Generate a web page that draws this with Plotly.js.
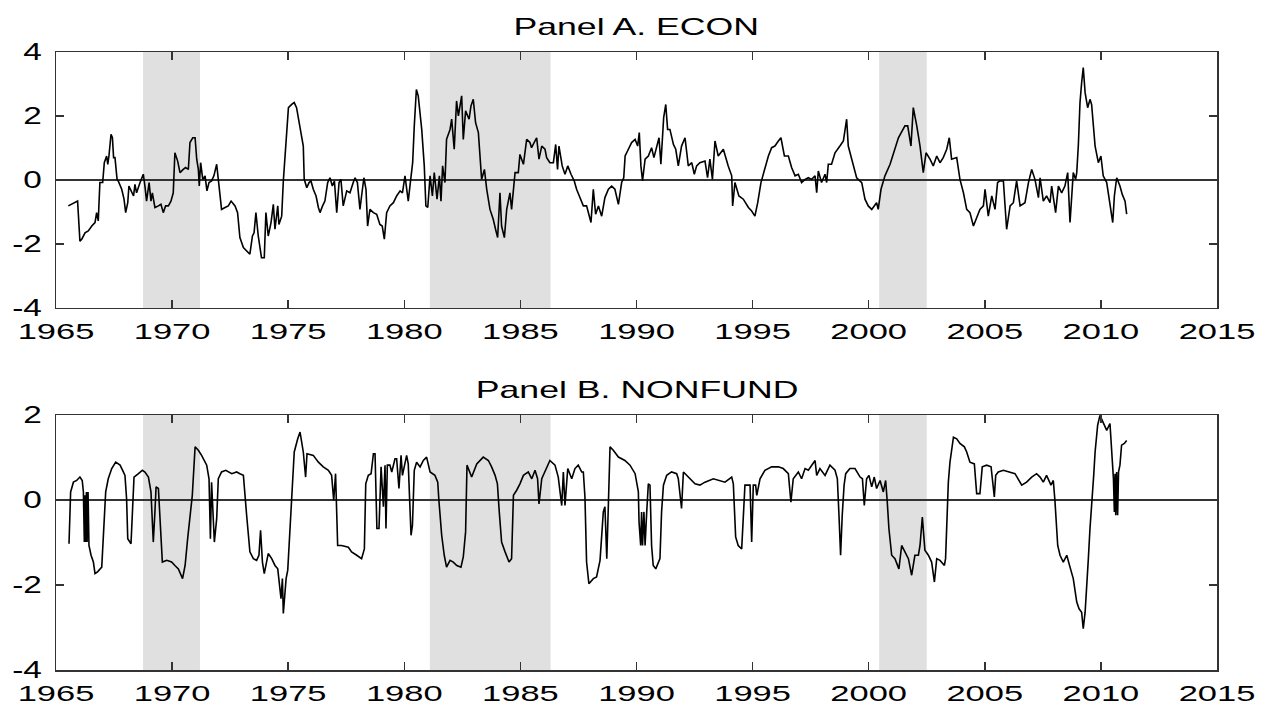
<!DOCTYPE html>
<html>
<head>
<meta charset="utf-8">
<script src="https://cdn.plot.ly/plotly-3.0.1.min.js"></script>
<style>
html,body{margin:0;padding:0;background:#fff;}
#chart{width:1270px;height:707px;}
</style>
</head>
<body>
<div id="chart"></div>
<script>
// ---- data ----
const tickYears = [1965, 1970, 1975, 1980, 1985, 1990, 1995, 2000, 2005, 2010, 2015];
const yTicksA = [-4, -2, 0, 2, 4];
const yTicksB = [-4, -2, 0, 2];
const shadeStart = [1968.75, 1981.1, 2000.45];
const shadeEnd   = [1971.2, 1986.3, 2002.5];
const panelTitles = ["Panel A. ECON", "Panel B. NONFUND"];

// Panel A: ECON  [year, value]
const econPoints = [
[1965.53,-0.81],[1965.67,-0.76],[1965.82,-0.71],[1965.93,-0.66],[1966.03,-1.91],[1966.11,-1.85],[1966.25,-1.65],[1966.39,-1.59],
[1966.54,-1.44],[1966.68,-1.33],[1966.75,-1.02],[1966.82,-1.28],[1966.89,-0.08],[1967.01,-0.08],[1967.08,0.54],[1967.18,0.75],
[1967.23,0.49],[1967.28,0.75],[1967.37,1.43],[1967.43,1.32],[1967.48,0.70],[1967.54,0.70],[1967.63,0.02],[1967.68,-0.03],
[1967.83,-0.29],[1967.93,-0.60],[1968.00,-1.02],[1968.09,-0.71],[1968.14,-0.19],[1968.26,-0.40],[1968.34,-0.50],[1968.40,-0.14],
[1968.47,-0.40],[1968.62,-0.08],[1968.76,0.18],[1968.83,-0.19],[1968.90,-0.66],[1969.01,-0.08],[1969.09,-0.66],[1969.15,-0.40],
[1969.26,-0.86],[1969.41,-0.81],[1969.52,-0.76],[1969.62,-1.02],[1969.72,-0.81],[1969.84,-0.81],[1969.95,-0.66],[1970.05,-0.40],
[1970.12,0.85],[1970.24,0.59],[1970.34,0.23],[1970.48,0.33],[1970.58,0.39],[1970.70,0.33],[1970.77,1.17],[1970.89,1.32],
[1970.99,1.32],[1971.06,0.65],[1971.13,0.33],[1971.17,-0.19],[1971.23,0.54],[1971.32,0.02],[1971.42,0.13],[1971.50,-0.34],
[1971.59,-0.08],[1971.70,-0.03],[1971.80,0.13],[1971.92,0.49],[1971.99,-0.03],[1972.13,-0.92],[1972.28,-0.86],[1972.42,-0.81],
[1972.54,-0.66],[1972.71,-0.81],[1972.82,-1.02],[1972.92,-1.80],[1973.07,-2.11],[1973.21,-2.22],[1973.35,-2.32],[1973.46,-1.75],
[1973.53,-1.65],[1973.61,-1.02],[1973.71,-1.75],[1973.85,-2.43],[1973.97,-2.43],[1974.04,-1.02],[1974.14,-1.75],[1974.26,-1.33],
[1974.36,-0.76],[1974.43,-1.54],[1974.55,-0.81],[1974.60,-1.39],[1974.72,-1.13],[1974.79,-0.03],[1974.93,1.38],[1975.01,2.26],
[1975.15,2.36],[1975.26,2.42],[1975.36,2.26],[1975.51,1.69],[1975.58,1.38],[1975.65,1.06],[1975.69,0.02],[1975.80,-0.24],
[1975.90,-0.08],[1975.98,-0.03],[1976.08,-0.29],[1976.20,-0.50],[1976.30,-0.86],[1976.37,-1.02],[1976.48,-0.81],[1976.58,-0.66],
[1976.70,-0.08],[1976.80,0.07],[1976.90,-0.19],[1976.99,-0.03],[1977.09,-1.02],[1977.19,-0.08],[1977.27,0.02],[1977.37,-0.81],
[1977.52,-0.34],[1977.66,-0.40],[1977.80,-0.08],[1977.88,0.07],[1977.98,-0.08],[1978.09,-0.92],[1978.16,-0.50],[1978.26,0.07],
[1978.35,-0.29],[1978.42,-1.44],[1978.52,-0.92],[1978.67,-1.02],[1978.81,-1.07],[1978.95,-1.39],[1979.05,-1.44],[1979.14,-1.85],
[1979.24,-1.02],[1979.38,-0.81],[1979.53,-0.71],[1979.67,-0.50],[1979.82,-0.34],[1979.92,-0.40],[1980.03,0.13],[1980.17,-0.66],
[1980.26,-0.08],[1980.36,0.54],[1980.43,1.69],[1980.52,2.83],[1980.60,2.63],[1980.75,1.58],[1980.86,0.44],[1980.93,-0.81],
[1981.01,-0.86],[1981.11,0.13],[1981.21,-0.50],[1981.29,0.23],[1981.41,-0.60],[1981.51,0.13],[1981.58,-0.66],[1981.65,0.44],
[1981.75,-0.08],[1981.82,1.27],[1981.97,1.58],[1982.04,1.90],[1982.15,0.96],[1982.25,2.47],[1982.33,2.00],[1982.47,2.63],
[1982.54,1.27],[1982.64,2.16],[1982.79,1.90],[1982.87,2.31],[1982.97,2.52],[1983.07,1.79],[1983.19,1.48],[1983.26,0.65],
[1983.33,0.02],[1983.45,0.33],[1983.55,-0.29],[1983.69,-0.92],[1983.83,-1.23],[1983.93,-1.54],[1984.02,-1.80],[1984.12,-0.40],
[1984.19,-1.44],[1984.31,-1.80],[1984.41,-0.92],[1984.55,-0.40],[1984.62,-0.92],[1984.77,0.23],[1984.91,0.23],[1984.98,0.80],
[1985.13,0.49],[1985.27,1.27],[1985.41,1.17],[1985.48,1.01],[1985.70,1.32],[1985.80,0.65],[1985.92,1.06],[1986.06,0.96],
[1986.13,0.70],[1986.27,0.54],[1986.42,0.54],[1986.52,1.11],[1986.60,0.33],[1986.66,1.06],[1986.80,0.44],[1986.92,0.18],
[1987.04,0.44],[1987.18,0.18],[1987.32,-0.03],[1987.42,-0.29],[1987.57,-0.55],[1987.71,-0.81],[1987.85,-0.81],[1988.04,-1.33],
[1988.14,-0.29],[1988.24,-1.07],[1988.36,-0.81],[1988.50,-1.13],[1988.64,-0.55],[1988.79,-0.29],[1988.93,-0.19],[1989.07,-0.29],
[1989.22,-0.76],[1989.36,-0.08],[1989.45,0.07],[1989.51,0.75],[1989.65,0.96],[1989.79,1.17],[1989.94,1.27],[1990.05,1.06],
[1990.12,1.48],[1990.19,0.44],[1990.26,-0.03],[1990.37,0.65],[1990.51,0.75],[1990.65,1.01],[1990.75,0.70],[1990.87,1.06],
[1990.97,1.32],[1991.05,0.49],[1991.17,1.95],[1991.26,2.36],[1991.34,1.58],[1991.44,1.58],[1991.59,1.11],[1991.69,0.96],
[1991.80,0.44],[1991.94,1.06],[1992.09,1.32],[1992.23,0.44],[1992.38,0.54],[1992.49,0.18],[1992.59,0.44],[1992.73,0.54],
[1992.95,0.59],[1993.06,0.07],[1993.16,0.65],[1993.27,0.02],[1993.38,1.22],[1993.52,0.75],[1993.74,0.96],[1993.95,0.44],
[1994.10,0.13],[1994.14,-0.81],[1994.24,-0.08],[1994.41,-0.50],[1994.60,-0.60],[1994.82,-0.86],[1994.96,-0.97],[1995.10,-1.13],
[1995.22,-0.71],[1995.36,-0.08],[1995.53,0.39],[1995.68,0.75],[1995.82,1.01],[1995.96,1.06],[1996.11,1.22],[1996.22,1.32],
[1996.37,0.75],[1996.54,0.75],[1996.68,0.39],[1996.83,0.13],[1996.97,0.18],[1997.11,-0.08],[1997.26,0.02],[1997.40,0.07],
[1997.54,0.02],[1997.69,0.13],[1997.76,-0.40],[1997.83,0.28],[1997.97,-0.08],[1998.12,0.18],[1998.19,-0.08],[1998.26,0.49],
[1998.40,0.49],[1998.55,0.85],[1998.76,1.06],[1998.91,1.22],[1999.05,1.90],[1999.12,1.06],[1999.27,0.65],[1999.48,0.07],
[1999.70,-0.08],[1999.84,-0.60],[1999.98,-0.81],[2000.13,-0.92],[2000.34,-0.71],[2000.41,-0.92],[2000.53,-0.29],[2000.70,0.13],
[2000.92,0.49],[2001.13,0.96],[2001.28,1.32],[2001.56,1.69],[2001.68,1.69],[2001.82,1.06],[2001.92,2.26],[2002.07,1.69],
[2002.21,1.06],[2002.35,0.23],[2002.47,0.85],[2002.64,0.65],[2002.78,0.44],[2002.93,0.75],[2003.07,0.54],[2003.21,0.70],
[2003.36,0.96],[2003.47,1.32],[2003.57,0.65],[2003.79,0.70],[2003.86,0.39],[2003.93,0.02],[2004.08,-0.40],[2004.22,-0.92],
[2004.36,-1.02],[2004.51,-1.44],[2004.65,-1.18],[2004.79,-0.92],[2004.94,-0.81],[2005.01,-0.29],[2005.15,-1.13],[2005.30,-0.50],
[2005.44,-0.92],[2005.55,-0.08],[2005.65,-0.03],[2005.80,-0.03],[2005.94,-1.54],[2006.09,-0.81],[2006.23,-0.71],[2006.37,-0.03],
[2006.52,-0.81],[2006.73,-0.71],[2006.88,-0.08],[2007.02,0.33],[2007.16,0.02],[2007.31,-0.55],[2007.38,0.07],[2007.52,-0.66],
[2007.66,-0.50],[2007.81,-0.71],[2007.88,-0.19],[2008.05,-1.02],[2008.17,-0.19],[2008.31,-0.40],[2008.45,-0.19],[2008.57,0.23],
[2008.67,-1.33],[2008.81,0.23],[2008.91,0.02],[2008.96,0.23],[2009.03,1.11],[2009.10,2.42],[2009.17,3.04],[2009.24,3.51],
[2009.32,2.73],[2009.43,2.26],[2009.53,2.52],[2009.60,2.36],[2009.75,1.06],[2009.89,0.54],[2010.00,0.75],[2010.10,0.13],
[2010.25,-0.08],[2010.39,-0.71],[2010.51,-1.33],[2010.58,-0.50],[2010.68,0.07],[2010.82,-0.19],[2010.92,-0.45],[2011.04,-0.66],
[2011.11,-1.07]
];

// Panel B: NONFUND  [year, value]
const nonfundPoints = [
[1965.56,-1.03],[1965.63,0.19],[1965.75,0.42],[1965.89,0.46],[1966.03,0.54],[1966.13,0.46],[1966.18,0.19],[1966.22,-0.99],
[1966.25,0.11],[1966.28,-0.99],[1966.31,0.19],[1966.34,-0.99],[1966.38,0.19],[1966.42,-1.07],[1966.51,-1.30],[1966.61,-1.46],
[1966.68,-1.73],[1966.79,-1.69],[1966.97,-1.58],[1967.04,-0.91],[1967.08,-0.44],[1967.14,0.19],[1967.25,0.50],[1967.40,0.74],
[1967.57,0.89],[1967.76,0.82],[1967.90,0.66],[1967.97,0.58],[1968.04,0.03],[1968.09,-0.91],[1968.23,-1.03],[1968.29,-0.28],
[1968.36,0.54],[1968.55,0.62],[1968.72,0.70],[1968.83,0.66],[1968.98,0.54],[1969.09,0.19],[1969.15,-0.64],[1969.19,-0.99],
[1969.26,-0.28],[1969.31,0.31],[1969.41,0.27],[1969.48,-0.52],[1969.58,-1.46],[1969.77,-1.42],[1969.98,-1.46],[1970.12,-1.54],
[1970.27,-1.62],[1970.45,-1.85],[1970.56,-1.54],[1970.67,-0.91],[1970.79,-0.36],[1970.87,0.11],[1970.99,1.25],[1971.13,1.17],
[1971.27,1.05],[1971.49,0.82],[1971.59,0.50],[1971.65,-0.91],[1971.70,0.42],[1971.82,-0.99],[1971.92,-0.44],[1971.99,0.50],
[1972.13,0.66],[1972.31,0.70],[1972.57,0.62],[1972.78,0.66],[1972.92,0.62],[1973.07,0.58],[1973.21,-0.36],[1973.35,-1.22],
[1973.50,-1.38],[1973.64,-1.42],[1973.74,-1.30],[1973.81,-0.71],[1973.89,-1.46],[1973.97,-1.73],[1974.14,-1.26],[1974.29,-1.38],
[1974.43,-1.54],[1974.55,-1.62],[1974.69,-2.32],[1974.75,-1.85],[1974.79,-2.67],[1974.91,-1.85],[1974.98,-1.65],[1975.08,-0.64],
[1975.15,0.23],[1975.26,1.13],[1975.41,1.44],[1975.51,1.60],[1975.65,1.13],[1975.75,0.54],[1975.81,1.09],[1976.08,1.05],
[1976.30,0.89],[1976.51,0.78],[1976.73,0.70],[1976.87,0.58],[1976.96,-0.01],[1977.04,0.62],[1977.13,-1.07],[1977.30,-1.07],
[1977.59,-1.11],[1977.73,-1.22],[1977.95,-1.30],[1978.16,-1.38],[1978.28,-1.15],[1978.31,-0.05],[1978.34,0.38],[1978.45,0.58],
[1978.57,0.62],[1978.67,1.09],[1978.74,1.09],[1978.82,-0.67],[1978.91,-0.67],[1979.00,0.78],[1979.10,-0.16],[1979.17,0.82],
[1979.21,-0.67],[1979.27,0.82],[1979.38,0.82],[1979.46,0.66],[1979.60,0.97],[1979.67,0.97],[1979.77,0.27],[1979.86,1.05],
[1979.92,0.58],[1980.10,1.05],[1980.17,0.85],[1980.29,-0.83],[1980.35,-0.60],[1980.43,0.70],[1980.53,0.89],[1980.68,0.78],
[1980.82,0.93],[1980.96,1.01],[1981.11,0.66],[1981.32,0.58],[1981.44,0.42],[1981.49,-0.01],[1981.61,-0.83],[1981.72,-1.30],
[1981.82,-1.58],[1981.97,-1.42],[1982.11,-1.46],[1982.26,-1.54],[1982.44,-1.58],[1982.54,-1.34],[1982.64,-0.75],[1982.70,0.82],
[1982.79,0.70],[1982.90,0.54],[1983.12,0.85],[1983.26,0.93],[1983.40,1.01],[1983.62,0.93],[1983.76,0.78],[1983.91,0.58],
[1984.01,0.38],[1984.09,-0.28],[1984.19,-0.99],[1984.34,-1.22],[1984.51,-1.46],[1984.62,-1.38],[1984.70,0.11],[1984.84,0.23],
[1984.98,0.38],[1985.13,0.58],[1985.34,0.66],[1985.49,0.50],[1985.63,0.70],[1985.74,0.50],[1985.80,-0.09],[1985.92,0.50],
[1986.06,0.66],[1986.27,0.93],[1986.49,0.82],[1986.63,0.54],[1986.78,-0.13],[1986.85,0.66],[1986.92,-0.13],[1987.04,0.74],
[1987.21,0.50],[1987.35,0.74],[1987.49,0.82],[1987.64,0.66],[1987.71,0.66],[1987.78,0.07],[1987.85,-1.46],[1987.95,-1.97],
[1988.14,-1.85],[1988.28,-1.81],[1988.43,-1.42],[1988.57,-0.28],[1988.64,-0.16],[1988.72,-1.38],[1988.79,-0.09],[1988.86,1.25],
[1989.00,1.17],[1989.22,1.01],[1989.50,0.93],[1989.72,0.82],[1989.94,0.62],[1990.08,0.19],[1990.11,-0.52],[1990.18,-1.07],
[1990.22,-0.28],[1990.26,-1.07],[1990.32,-0.28],[1990.37,-1.07],[1990.44,-0.28],[1990.51,0.38],[1990.58,0.35],[1990.65,-1.07],
[1990.72,-1.54],[1990.83,-1.62],[1991.01,-1.38],[1991.08,-0.28],[1991.16,0.35],[1991.30,0.58],[1991.51,0.66],[1991.73,0.62],
[1991.80,0.50],[1991.94,-0.20],[1992.02,0.66],[1992.30,0.50],[1992.52,0.38],[1992.73,0.35],[1992.95,0.42],[1993.31,0.50],
[1993.52,0.46],[1993.81,0.42],[1994.10,0.54],[1994.17,0.38],[1994.27,-0.87],[1994.38,-1.07],[1994.53,-1.15],[1994.67,0.35],
[1994.89,0.35],[1994.96,-0.99],[1995.03,0.35],[1995.13,0.35],[1995.18,0.11],[1995.32,0.50],[1995.53,0.70],[1995.82,0.78],
[1996.11,0.78],[1996.32,0.74],[1996.54,0.62],[1996.65,-0.05],[1996.75,0.50],[1996.97,0.66],[1997.11,0.50],[1997.26,0.74],
[1997.40,0.70],[1997.54,0.82],[1997.69,0.93],[1997.76,0.58],[1997.90,0.74],[1998.12,0.58],[1998.33,0.82],[1998.55,0.70],
[1998.65,0.50],[1998.72,-0.36],[1998.79,-1.30],[1998.86,-0.36],[1998.94,0.35],[1999.01,0.62],[1999.19,0.74],[1999.41,0.74],
[1999.63,0.54],[1999.73,0.50],[1999.81,-0.13],[1999.91,0.50],[2000.01,0.58],[2000.13,0.31],[2000.24,0.54],[2000.34,0.27],
[2000.49,0.46],[2000.63,0.19],[2000.73,0.46],[2000.80,-0.05],[2000.87,-0.67],[2000.99,-1.30],[2001.13,-1.38],[2001.30,-1.62],
[2001.42,-1.07],[2001.56,-1.22],[2001.71,-1.38],[2001.85,-1.77],[2001.99,-1.30],[2002.14,-1.30],[2002.21,-1.07],[2002.31,-0.40],
[2002.42,-1.18],[2002.57,-1.30],[2002.71,-1.46],[2002.83,-1.93],[2002.93,-1.38],[2003.07,-1.42],[2003.26,-1.54],[2003.31,-1.38],
[2003.36,-0.44],[2003.43,0.42],[2003.50,0.89],[2003.65,1.48],[2003.79,1.44],[2003.93,1.33],[2004.12,1.25],[2004.22,1.13],
[2004.36,0.89],[2004.55,0.85],[2004.65,0.15],[2004.79,0.15],[2004.89,0.78],[2005.08,0.82],[2005.27,0.78],[2005.41,0.07],
[2005.47,0.58],[2005.58,0.66],[2005.80,0.70],[2006.01,0.66],[2006.30,0.62],[2006.59,0.35],[2006.80,0.42],[2007.02,0.54],
[2007.23,0.62],[2007.38,0.54],[2007.52,0.42],[2007.66,0.58],[2007.85,0.35],[2007.95,0.46],[2008.02,-0.01],[2008.14,-1.07],
[2008.24,-1.30],[2008.38,-1.46],[2008.53,-1.30],[2008.67,-1.58],[2008.81,-1.85],[2008.96,-2.40],[2009.06,-2.56],[2009.17,-2.64],
[2009.24,-3.03],[2009.32,-2.64],[2009.39,-2.09],[2009.46,-1.38],[2009.53,-0.67],[2009.63,0.03],[2009.69,0.58],[2009.75,1.13],
[2009.86,1.76],[2009.96,1.99],[2010.10,1.84],[2010.25,1.64],[2010.39,1.80],[2010.46,1.29],[2010.54,0.50],[2010.58,-0.28],
[2010.61,0.62],[2010.64,-0.36],[2010.68,0.66],[2010.72,-0.36],[2010.76,0.66],[2010.82,0.82],[2010.89,1.29],[2011.01,1.33],
[2011.11,1.40]
];

// ---- chart ----
const FONT = '"Liberation Sans", Arial, Helvetica, sans-serif';
const AXCOL = '#333333';

function lineTrace(points, xa, ya) {
  return {
    x: points.map(p => p[0]), y: points.map(p => p[1]),
    xaxis: xa, yaxis: ya, type: 'scatter', mode: 'lines',
    line: {color: '#000000', width: 1.6}, hoverinfo: 'skip', showlegend: false
  };
}

function xAxis(anchor) {
  return {
    anchor: anchor, domain: [0, 1], range: [1965, 2015],
    tickmode: 'array', tickvals: tickYears, ticktext: tickYears.map(String),
    ticks: 'inside', ticklen: 8, tickwidth: 1.5, tickcolor: AXCOL,
    showline: true, linecolor: AXCOL, linewidth: 1.5, mirror: 'ticks',
    showgrid: false, zeroline: false, ticklabelstandoff: 2,
    tickfont: {family: FONT, size: 23, color: '#000'}
  };
}
function yAxis(anchor, domain, range, ticks) {
  return {
    anchor: anchor, domain: domain, range: range,
    tickmode: 'array', tickvals: ticks, ticktext: ticks.map(v => String(v)),
    ticks: 'inside', ticklen: 8, tickwidth: 1.5, tickcolor: AXCOL,
    showline: true, linecolor: AXCOL, linewidth: 1.5, mirror: 'ticks',
    showgrid: false, zeroline: true, zerolinecolor: AXCOL, zerolinewidth: 1.5,
    ticklabelstandoff: 8,
    tickfont: {family: FONT, size: 23, color: '#000'}
  };
}

const shapes = [];
[['x', 'y'], ['x2', 'y2']].forEach(([xr, yr]) => {
  shadeStart.forEach((s, i) => {
    shapes.push({type: 'rect', xref: xr, yref: yr + ' domain', x0: s, x1: shadeEnd[i], y0: 0, y1: 1,
      fillcolor: '#e0e0e0', line: {width: 0}, layer: 'below'});
  });
});

const layout = {
  width: 1270, height: 707,
  margin: {l: 56, r: 53, t: 52, b: 37},
  paper_bgcolor: '#ffffff', plot_bgcolor: '#ffffff',
  showlegend: false,
  xaxis: xAxis('y'),
  yaxis: yAxis('x', [0.5858, 1], [-4, 4], yTicksA),
  xaxis2: xAxis('y2'),
  yaxis2: yAxis('x2', [0, 0.4126], [-4, 2], yTicksB),
  shapes: shapes,
  annotations: [
    {text: panelTitles[0], xref: 'paper', yref: 'paper', x: 0.5, y: 1.040, xanchor: 'center', yanchor: 'middle',
     showarrow: false, font: {family: FONT, size: 23, color: '#000'}},
    {text: panelTitles[1], xref: 'paper', yref: 'paper', x: 0.5, y: 0.453, xanchor: 'center', yanchor: 'middle',
     showarrow: false, font: {family: FONT, size: 23, color: '#000'}}
  ]
};

const traces = [lineTrace(econPoints, 'x', 'y'), lineTrace(nonfundPoints, 'x2', 'y2')];

// the reference text is horizontally wide; stretch text glyphs about their anchor
function stretchText(selector, sx, anchor) {
  document.querySelectorAll(selector).forEach(t => {
    const bb = t.getBBox();
    const cx = anchor === 'end' ? bb.x + bb.width : bb.x + bb.width / 2;
    const cy = bb.y + bb.height / 2;
    const old = t.getAttribute('transform') || '';
    t.setAttribute('transform', old + ' translate(' + cx + ',' + cy + ') scale(' + sx + ',1) translate(' + (-cx) + ',' + (-cy) + ')');
  });
}

Plotly.newPlot('chart', traces, layout, {staticPlot: true, displayModeBar: false}).then(() => {
  stretchText('g.xtick text, g.x2tick text', 1.5, 'middle');
  stretchText('g.ytick text, g.y2tick text', 1.45, 'end');
  stretchText('text.annotation-text', 1.55, 'middle');
});
</script>
</body>
</html>
